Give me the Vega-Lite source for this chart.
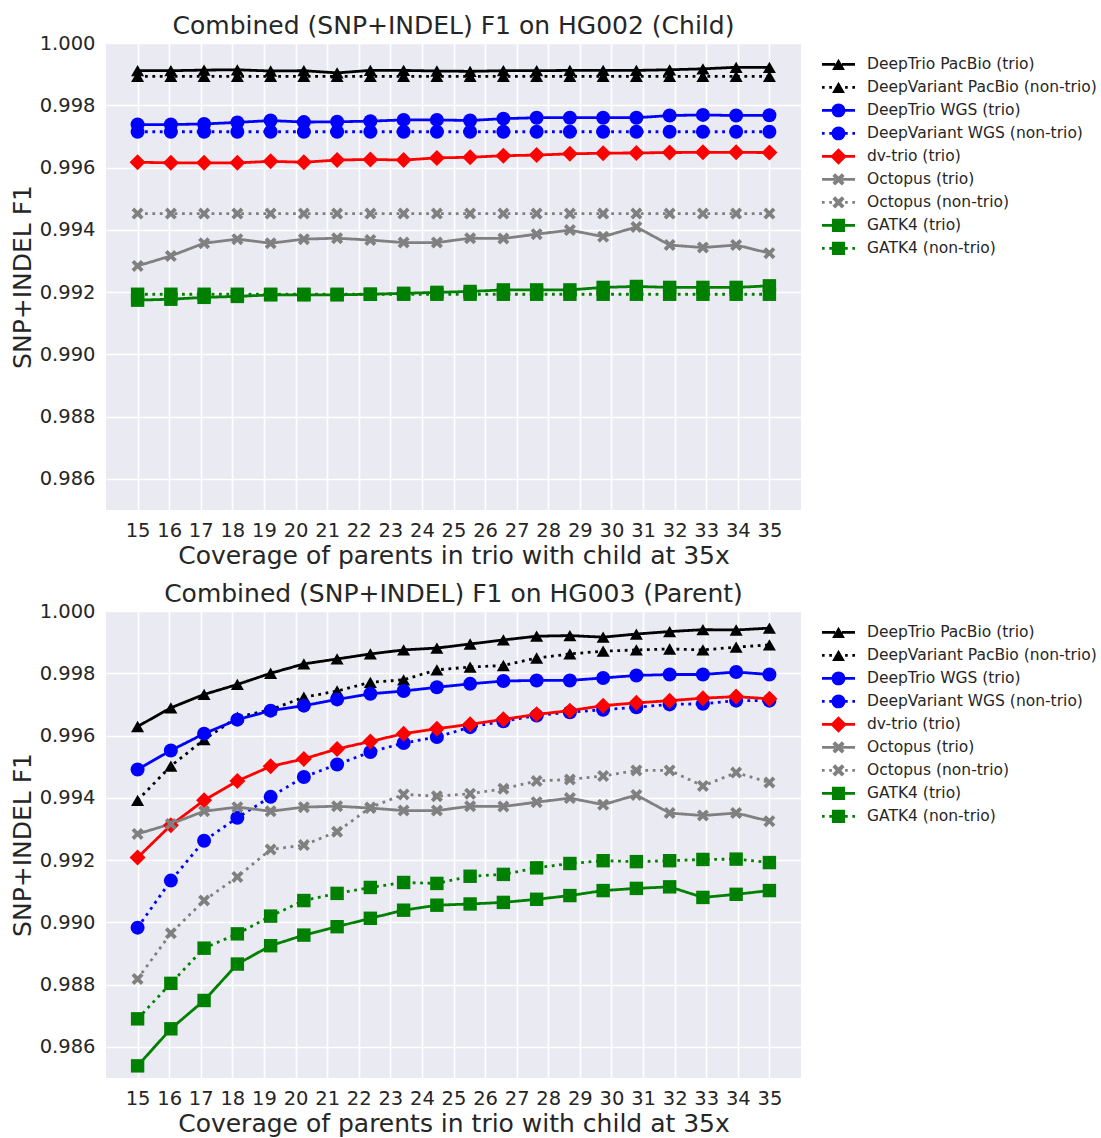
{
  "$schema": "https://vega.github.io/schema/vega-lite/v6.json",
  "padding": {"left": 10, "top": 14, "right": 0, "bottom": 0},
  "background": "white",
  "datasets": {
    "hg002": [
      {"s":"DeepTrio PacBio (trio)","x":15,"y":0.99911},{"s":"DeepTrio PacBio (trio)","x":16.053,"y":0.99911},{"s":"DeepTrio PacBio (trio)","x":17.105,"y":0.99913},{"s":"DeepTrio PacBio (trio)","x":18.158,"y":0.99914},{"s":"DeepTrio PacBio (trio)","x":19.211,"y":0.9991},{"s":"DeepTrio PacBio (trio)","x":20.263,"y":0.99911},{"s":"DeepTrio PacBio (trio)","x":21.316,"y":0.99904},{"s":"DeepTrio PacBio (trio)","x":22.368,"y":0.99912},{"s":"DeepTrio PacBio (trio)","x":23.421,"y":0.99912},{"s":"DeepTrio PacBio (trio)","x":24.474,"y":0.9991},{"s":"DeepTrio PacBio (trio)","x":25.526,"y":0.99909},{"s":"DeepTrio PacBio (trio)","x":26.579,"y":0.99911},{"s":"DeepTrio PacBio (trio)","x":27.632,"y":0.99911},{"s":"DeepTrio PacBio (trio)","x":28.684,"y":0.99912},{"s":"DeepTrio PacBio (trio)","x":29.737,"y":0.99912},{"s":"DeepTrio PacBio (trio)","x":30.789,"y":0.99912},{"s":"DeepTrio PacBio (trio)","x":31.842,"y":0.99914},{"s":"DeepTrio PacBio (trio)","x":32.895,"y":0.99917},{"s":"DeepTrio PacBio (trio)","x":33.947,"y":0.99922},{"s":"DeepTrio PacBio (trio)","x":35,"y":0.99922},
      {"s":"DeepVariant PacBio (non-trio)","x":15,"y":0.99893},{"s":"DeepVariant PacBio (non-trio)","x":16.053,"y":0.99893},{"s":"DeepVariant PacBio (non-trio)","x":17.105,"y":0.99893},{"s":"DeepVariant PacBio (non-trio)","x":18.158,"y":0.99893},{"s":"DeepVariant PacBio (non-trio)","x":19.211,"y":0.99893},{"s":"DeepVariant PacBio (non-trio)","x":20.263,"y":0.99893},{"s":"DeepVariant PacBio (non-trio)","x":21.316,"y":0.99893},{"s":"DeepVariant PacBio (non-trio)","x":22.368,"y":0.99893},{"s":"DeepVariant PacBio (non-trio)","x":23.421,"y":0.99893},{"s":"DeepVariant PacBio (non-trio)","x":24.474,"y":0.99893},{"s":"DeepVariant PacBio (non-trio)","x":25.526,"y":0.99893},{"s":"DeepVariant PacBio (non-trio)","x":26.579,"y":0.99893},{"s":"DeepVariant PacBio (non-trio)","x":27.632,"y":0.99893},{"s":"DeepVariant PacBio (non-trio)","x":28.684,"y":0.99893},{"s":"DeepVariant PacBio (non-trio)","x":29.737,"y":0.99893},{"s":"DeepVariant PacBio (non-trio)","x":30.789,"y":0.99893},{"s":"DeepVariant PacBio (non-trio)","x":31.842,"y":0.99893},{"s":"DeepVariant PacBio (non-trio)","x":32.895,"y":0.99893},{"s":"DeepVariant PacBio (non-trio)","x":33.947,"y":0.99893},{"s":"DeepVariant PacBio (non-trio)","x":35,"y":0.99893},
      {"s":"DeepTrio WGS (trio)","x":15,"y":0.99738},{"s":"DeepTrio WGS (trio)","x":16.053,"y":0.99738},{"s":"DeepTrio WGS (trio)","x":17.105,"y":0.9974},{"s":"DeepTrio WGS (trio)","x":18.158,"y":0.99745},{"s":"DeepTrio WGS (trio)","x":19.211,"y":0.99751},{"s":"DeepTrio WGS (trio)","x":20.263,"y":0.99746},{"s":"DeepTrio WGS (trio)","x":21.316,"y":0.99747},{"s":"DeepTrio WGS (trio)","x":22.368,"y":0.99749},{"s":"DeepTrio WGS (trio)","x":23.421,"y":0.99753},{"s":"DeepTrio WGS (trio)","x":24.474,"y":0.99753},{"s":"DeepTrio WGS (trio)","x":25.526,"y":0.99751},{"s":"DeepTrio WGS (trio)","x":26.579,"y":0.99757},{"s":"DeepTrio WGS (trio)","x":27.632,"y":0.9976},{"s":"DeepTrio WGS (trio)","x":28.684,"y":0.9976},{"s":"DeepTrio WGS (trio)","x":29.737,"y":0.9976},{"s":"DeepTrio WGS (trio)","x":30.789,"y":0.9976},{"s":"DeepTrio WGS (trio)","x":31.842,"y":0.99767},{"s":"DeepTrio WGS (trio)","x":32.895,"y":0.99769},{"s":"DeepTrio WGS (trio)","x":33.947,"y":0.99767},{"s":"DeepTrio WGS (trio)","x":35,"y":0.99768},
      {"s":"DeepVariant WGS (non-trio)","x":15,"y":0.99715},{"s":"DeepVariant WGS (non-trio)","x":16.053,"y":0.99715},{"s":"DeepVariant WGS (non-trio)","x":17.105,"y":0.99715},{"s":"DeepVariant WGS (non-trio)","x":18.158,"y":0.99715},{"s":"DeepVariant WGS (non-trio)","x":19.211,"y":0.99715},{"s":"DeepVariant WGS (non-trio)","x":20.263,"y":0.99715},{"s":"DeepVariant WGS (non-trio)","x":21.316,"y":0.99715},{"s":"DeepVariant WGS (non-trio)","x":22.368,"y":0.99715},{"s":"DeepVariant WGS (non-trio)","x":23.421,"y":0.99715},{"s":"DeepVariant WGS (non-trio)","x":24.474,"y":0.99715},{"s":"DeepVariant WGS (non-trio)","x":25.526,"y":0.99715},{"s":"DeepVariant WGS (non-trio)","x":26.579,"y":0.99715},{"s":"DeepVariant WGS (non-trio)","x":27.632,"y":0.99715},{"s":"DeepVariant WGS (non-trio)","x":28.684,"y":0.99715},{"s":"DeepVariant WGS (non-trio)","x":29.737,"y":0.99715},{"s":"DeepVariant WGS (non-trio)","x":30.789,"y":0.99715},{"s":"DeepVariant WGS (non-trio)","x":31.842,"y":0.99715},{"s":"DeepVariant WGS (non-trio)","x":32.895,"y":0.99715},{"s":"DeepVariant WGS (non-trio)","x":33.947,"y":0.99715},{"s":"DeepVariant WGS (non-trio)","x":35,"y":0.99715},
      {"s":"dv-trio (trio)","x":15,"y":0.99617},{"s":"dv-trio (trio)","x":16.053,"y":0.99615},{"s":"dv-trio (trio)","x":17.105,"y":0.99615},{"s":"dv-trio (trio)","x":18.158,"y":0.99615},{"s":"dv-trio (trio)","x":19.211,"y":0.9962},{"s":"dv-trio (trio)","x":20.263,"y":0.99617},{"s":"dv-trio (trio)","x":21.316,"y":0.99624},{"s":"dv-trio (trio)","x":22.368,"y":0.99626},{"s":"dv-trio (trio)","x":23.421,"y":0.99624},{"s":"dv-trio (trio)","x":24.474,"y":0.99631},{"s":"dv-trio (trio)","x":25.526,"y":0.99633},{"s":"dv-trio (trio)","x":26.579,"y":0.99638},{"s":"dv-trio (trio)","x":27.632,"y":0.9964},{"s":"dv-trio (trio)","x":28.684,"y":0.99644},{"s":"dv-trio (trio)","x":29.737,"y":0.99646},{"s":"dv-trio (trio)","x":30.789,"y":0.99647},{"s":"dv-trio (trio)","x":31.842,"y":0.99648},{"s":"dv-trio (trio)","x":32.895,"y":0.99649},{"s":"dv-trio (trio)","x":33.947,"y":0.99649},{"s":"dv-trio (trio)","x":35,"y":0.99648},
      {"s":"Octopus (trio)","x":15,"y":0.99284},{"s":"Octopus (trio)","x":16.053,"y":0.99316},{"s":"Octopus (trio)","x":17.105,"y":0.99357},{"s":"Octopus (trio)","x":18.158,"y":0.9937},{"s":"Octopus (trio)","x":19.211,"y":0.99357},{"s":"Octopus (trio)","x":20.263,"y":0.9937},{"s":"Octopus (trio)","x":21.316,"y":0.99373},{"s":"Octopus (trio)","x":22.368,"y":0.99367},{"s":"Octopus (trio)","x":23.421,"y":0.99359},{"s":"Octopus (trio)","x":24.474,"y":0.99359},{"s":"Octopus (trio)","x":25.526,"y":0.99373},{"s":"Octopus (trio)","x":26.579,"y":0.99372},{"s":"Octopus (trio)","x":27.632,"y":0.99386},{"s":"Octopus (trio)","x":28.684,"y":0.99399},{"s":"Octopus (trio)","x":29.737,"y":0.99378},{"s":"Octopus (trio)","x":30.789,"y":0.99409},{"s":"Octopus (trio)","x":31.842,"y":0.99351},{"s":"Octopus (trio)","x":32.895,"y":0.99343},{"s":"Octopus (trio)","x":33.947,"y":0.99351},{"s":"Octopus (trio)","x":35,"y":0.99325},
      {"s":"Octopus (non-trio)","x":15,"y":0.99452},{"s":"Octopus (non-trio)","x":16.053,"y":0.99452},{"s":"Octopus (non-trio)","x":17.105,"y":0.99452},{"s":"Octopus (non-trio)","x":18.158,"y":0.99452},{"s":"Octopus (non-trio)","x":19.211,"y":0.99452},{"s":"Octopus (non-trio)","x":20.263,"y":0.99452},{"s":"Octopus (non-trio)","x":21.316,"y":0.99452},{"s":"Octopus (non-trio)","x":22.368,"y":0.99452},{"s":"Octopus (non-trio)","x":23.421,"y":0.99452},{"s":"Octopus (non-trio)","x":24.474,"y":0.99452},{"s":"Octopus (non-trio)","x":25.526,"y":0.99452},{"s":"Octopus (non-trio)","x":26.579,"y":0.99452},{"s":"Octopus (non-trio)","x":27.632,"y":0.99452},{"s":"Octopus (non-trio)","x":28.684,"y":0.99452},{"s":"Octopus (non-trio)","x":29.737,"y":0.99452},{"s":"Octopus (non-trio)","x":30.789,"y":0.99452},{"s":"Octopus (non-trio)","x":31.842,"y":0.99452},{"s":"Octopus (non-trio)","x":32.895,"y":0.99452},{"s":"Octopus (non-trio)","x":33.947,"y":0.99452},{"s":"Octopus (non-trio)","x":35,"y":0.99452},
      {"s":"GATK4 (trio)","x":15,"y":0.99174},{"s":"GATK4 (trio)","x":16.053,"y":0.99177},{"s":"GATK4 (trio)","x":17.105,"y":0.99183},{"s":"GATK4 (trio)","x":18.158,"y":0.99186},{"s":"GATK4 (trio)","x":19.211,"y":0.99191},{"s":"GATK4 (trio)","x":20.263,"y":0.99191},{"s":"GATK4 (trio)","x":21.316,"y":0.99191},{"s":"GATK4 (trio)","x":22.368,"y":0.99193},{"s":"GATK4 (trio)","x":23.421,"y":0.99196},{"s":"GATK4 (trio)","x":24.474,"y":0.99199},{"s":"GATK4 (trio)","x":25.526,"y":0.99202},{"s":"GATK4 (trio)","x":26.579,"y":0.99207},{"s":"GATK4 (trio)","x":27.632,"y":0.99207},{"s":"GATK4 (trio)","x":28.684,"y":0.99207},{"s":"GATK4 (trio)","x":29.737,"y":0.99215},{"s":"GATK4 (trio)","x":30.789,"y":0.99218},{"s":"GATK4 (trio)","x":31.842,"y":0.99215},{"s":"GATK4 (trio)","x":32.895,"y":0.99215},{"s":"GATK4 (trio)","x":33.947,"y":0.99215},{"s":"GATK4 (trio)","x":35,"y":0.9922},
      {"s":"GATK4 (non-trio)","x":15,"y":0.99193},{"s":"GATK4 (non-trio)","x":16.053,"y":0.99193},{"s":"GATK4 (non-trio)","x":17.105,"y":0.99193},{"s":"GATK4 (non-trio)","x":18.158,"y":0.99193},{"s":"GATK4 (non-trio)","x":19.211,"y":0.99193},{"s":"GATK4 (non-trio)","x":20.263,"y":0.99193},{"s":"GATK4 (non-trio)","x":21.316,"y":0.99193},{"s":"GATK4 (non-trio)","x":22.368,"y":0.99193},{"s":"GATK4 (non-trio)","x":23.421,"y":0.99193},{"s":"GATK4 (non-trio)","x":24.474,"y":0.99193},{"s":"GATK4 (non-trio)","x":25.526,"y":0.99193},{"s":"GATK4 (non-trio)","x":26.579,"y":0.99193},{"s":"GATK4 (non-trio)","x":27.632,"y":0.99193},{"s":"GATK4 (non-trio)","x":28.684,"y":0.99193},{"s":"GATK4 (non-trio)","x":29.737,"y":0.99193},{"s":"GATK4 (non-trio)","x":30.789,"y":0.99193},{"s":"GATK4 (non-trio)","x":31.842,"y":0.99193},{"s":"GATK4 (non-trio)","x":32.895,"y":0.99193},{"s":"GATK4 (non-trio)","x":33.947,"y":0.99193},{"s":"GATK4 (non-trio)","x":35,"y":0.99193}
    ],
    "hg003": [
      {"s":"DeepTrio PacBio (trio)","x":15,"y":0.99629},{"s":"DeepTrio PacBio (trio)","x":16.053,"y":0.99689},{"s":"DeepTrio PacBio (trio)","x":17.105,"y":0.99732},{"s":"DeepTrio PacBio (trio)","x":18.158,"y":0.99764},{"s":"DeepTrio PacBio (trio)","x":19.211,"y":0.998},{"s":"DeepTrio PacBio (trio)","x":20.263,"y":0.9983},{"s":"DeepTrio PacBio (trio)","x":21.316,"y":0.99846},{"s":"DeepTrio PacBio (trio)","x":22.368,"y":0.99862},{"s":"DeepTrio PacBio (trio)","x":23.421,"y":0.99875},{"s":"DeepTrio PacBio (trio)","x":24.474,"y":0.99881},{"s":"DeepTrio PacBio (trio)","x":25.526,"y":0.99894},{"s":"DeepTrio PacBio (trio)","x":26.579,"y":0.99907},{"s":"DeepTrio PacBio (trio)","x":27.632,"y":0.99919},{"s":"DeepTrio PacBio (trio)","x":28.684,"y":0.99921},{"s":"DeepTrio PacBio (trio)","x":29.737,"y":0.99916},{"s":"DeepTrio PacBio (trio)","x":30.789,"y":0.99926},{"s":"DeepTrio PacBio (trio)","x":31.842,"y":0.99934},{"s":"DeepTrio PacBio (trio)","x":32.895,"y":0.9994},{"s":"DeepTrio PacBio (trio)","x":33.947,"y":0.99939},{"s":"DeepTrio PacBio (trio)","x":35,"y":0.99945},
      {"s":"DeepVariant PacBio (non-trio)","x":15,"y":0.99392},{"s":"DeepVariant PacBio (non-trio)","x":16.053,"y":0.99502},{"s":"DeepVariant PacBio (non-trio)","x":17.105,"y":0.99587},{"s":"DeepVariant PacBio (non-trio)","x":18.158,"y":0.99659},{"s":"DeepVariant PacBio (non-trio)","x":19.211,"y":0.99683},{"s":"DeepVariant PacBio (non-trio)","x":20.263,"y":0.99723},{"s":"DeepVariant PacBio (non-trio)","x":21.316,"y":0.99743},{"s":"DeepVariant PacBio (non-trio)","x":22.368,"y":0.99771},{"s":"DeepVariant PacBio (non-trio)","x":23.421,"y":0.99779},{"s":"DeepVariant PacBio (non-trio)","x":24.474,"y":0.99811},{"s":"DeepVariant PacBio (non-trio)","x":25.526,"y":0.9982},{"s":"DeepVariant PacBio (non-trio)","x":26.579,"y":0.99825},{"s":"DeepVariant PacBio (non-trio)","x":27.632,"y":0.99849},{"s":"DeepVariant PacBio (non-trio)","x":28.684,"y":0.99862},{"s":"DeepVariant PacBio (non-trio)","x":29.737,"y":0.99871},{"s":"DeepVariant PacBio (non-trio)","x":30.789,"y":0.99875},{"s":"DeepVariant PacBio (non-trio)","x":31.842,"y":0.99878},{"s":"DeepVariant PacBio (non-trio)","x":32.895,"y":0.99875},{"s":"DeepVariant PacBio (non-trio)","x":33.947,"y":0.99884},{"s":"DeepVariant PacBio (non-trio)","x":35,"y":0.99891},
      {"s":"DeepTrio WGS (trio)","x":15,"y":0.99491},{"s":"DeepTrio WGS (trio)","x":16.053,"y":0.99552},{"s":"DeepTrio WGS (trio)","x":17.105,"y":0.99606},{"s":"DeepTrio WGS (trio)","x":18.158,"y":0.99651},{"s":"DeepTrio WGS (trio)","x":19.211,"y":0.9968},{"s":"DeepTrio WGS (trio)","x":20.263,"y":0.99696},{"s":"DeepTrio WGS (trio)","x":21.316,"y":0.99716},{"s":"DeepTrio WGS (trio)","x":22.368,"y":0.99734},{"s":"DeepTrio WGS (trio)","x":23.421,"y":0.99743},{"s":"DeepTrio WGS (trio)","x":24.474,"y":0.99755},{"s":"DeepTrio WGS (trio)","x":25.526,"y":0.99766},{"s":"DeepTrio WGS (trio)","x":26.579,"y":0.99775},{"s":"DeepTrio WGS (trio)","x":27.632,"y":0.99777},{"s":"DeepTrio WGS (trio)","x":28.684,"y":0.99777},{"s":"DeepTrio WGS (trio)","x":29.737,"y":0.99785},{"s":"DeepTrio WGS (trio)","x":30.789,"y":0.99793},{"s":"DeepTrio WGS (trio)","x":31.842,"y":0.99796},{"s":"DeepTrio WGS (trio)","x":32.895,"y":0.99796},{"s":"DeepTrio WGS (trio)","x":33.947,"y":0.99804},{"s":"DeepTrio WGS (trio)","x":35,"y":0.99796},
      {"s":"DeepVariant WGS (non-trio)","x":15,"y":0.98983},{"s":"DeepVariant WGS (non-trio)","x":16.053,"y":0.99134},{"s":"DeepVariant WGS (non-trio)","x":17.105,"y":0.99262},{"s":"DeepVariant WGS (non-trio)","x":18.158,"y":0.99336},{"s":"DeepVariant WGS (non-trio)","x":19.211,"y":0.99403},{"s":"DeepVariant WGS (non-trio)","x":20.263,"y":0.99467},{"s":"DeepVariant WGS (non-trio)","x":21.316,"y":0.99507},{"s":"DeepVariant WGS (non-trio)","x":22.368,"y":0.99547},{"s":"DeepVariant WGS (non-trio)","x":23.421,"y":0.99576},{"s":"DeepVariant WGS (non-trio)","x":24.474,"y":0.99595},{"s":"DeepVariant WGS (non-trio)","x":25.526,"y":0.99627},{"s":"DeepVariant WGS (non-trio)","x":26.579,"y":0.99646},{"s":"DeepVariant WGS (non-trio)","x":27.632,"y":0.99664},{"s":"DeepVariant WGS (non-trio)","x":28.684,"y":0.99675},{"s":"DeepVariant WGS (non-trio)","x":29.737,"y":0.99683},{"s":"DeepVariant WGS (non-trio)","x":30.789,"y":0.99691},{"s":"DeepVariant WGS (non-trio)","x":31.842,"y":0.997},{"s":"DeepVariant WGS (non-trio)","x":32.895,"y":0.99702},{"s":"DeepVariant WGS (non-trio)","x":33.947,"y":0.99712},{"s":"DeepVariant WGS (non-trio)","x":35,"y":0.99712},
      {"s":"dv-trio (trio)","x":15,"y":0.99208},{"s":"dv-trio (trio)","x":16.053,"y":0.99312},{"s":"dv-trio (trio)","x":17.105,"y":0.99392},{"s":"dv-trio (trio)","x":18.158,"y":0.99454},{"s":"dv-trio (trio)","x":19.211,"y":0.99501},{"s":"dv-trio (trio)","x":20.263,"y":0.99525},{"s":"dv-trio (trio)","x":21.316,"y":0.99557},{"s":"dv-trio (trio)","x":22.368,"y":0.99581},{"s":"dv-trio (trio)","x":23.421,"y":0.99606},{"s":"dv-trio (trio)","x":24.474,"y":0.99622},{"s":"dv-trio (trio)","x":25.526,"y":0.99636},{"s":"dv-trio (trio)","x":26.579,"y":0.99652},{"s":"dv-trio (trio)","x":27.632,"y":0.99668},{"s":"dv-trio (trio)","x":28.684,"y":0.9968},{"s":"dv-trio (trio)","x":29.737,"y":0.99696},{"s":"dv-trio (trio)","x":30.789,"y":0.99705},{"s":"dv-trio (trio)","x":31.842,"y":0.99712},{"s":"dv-trio (trio)","x":32.895,"y":0.9972},{"s":"dv-trio (trio)","x":33.947,"y":0.99725},{"s":"dv-trio (trio)","x":35,"y":0.99718},
      {"s":"Octopus (trio)","x":15,"y":0.99284},{"s":"Octopus (trio)","x":16.053,"y":0.99316},{"s":"Octopus (trio)","x":17.105,"y":0.99357},{"s":"Octopus (trio)","x":18.158,"y":0.9937},{"s":"Octopus (trio)","x":19.211,"y":0.99357},{"s":"Octopus (trio)","x":20.263,"y":0.9937},{"s":"Octopus (trio)","x":21.316,"y":0.99373},{"s":"Octopus (trio)","x":22.368,"y":0.99367},{"s":"Octopus (trio)","x":23.421,"y":0.99359},{"s":"Octopus (trio)","x":24.474,"y":0.99359},{"s":"Octopus (trio)","x":25.526,"y":0.99373},{"s":"Octopus (trio)","x":26.579,"y":0.99372},{"s":"Octopus (trio)","x":27.632,"y":0.99386},{"s":"Octopus (trio)","x":28.684,"y":0.99399},{"s":"Octopus (trio)","x":29.737,"y":0.99378},{"s":"Octopus (trio)","x":30.789,"y":0.99409},{"s":"Octopus (trio)","x":31.842,"y":0.99351},{"s":"Octopus (trio)","x":32.895,"y":0.99343},{"s":"Octopus (trio)","x":33.947,"y":0.99351},{"s":"Octopus (trio)","x":35,"y":0.99325},
      {"s":"Octopus (non-trio)","x":15,"y":0.98818},{"s":"Octopus (non-trio)","x":16.053,"y":0.98965},{"s":"Octopus (non-trio)","x":17.105,"y":0.9907},{"s":"Octopus (non-trio)","x":18.158,"y":0.99146},{"s":"Octopus (non-trio)","x":19.211,"y":0.99234},{"s":"Octopus (non-trio)","x":20.263,"y":0.99248},{"s":"Octopus (non-trio)","x":21.316,"y":0.99291},{"s":"Octopus (non-trio)","x":22.368,"y":0.99369},{"s":"Octopus (non-trio)","x":23.421,"y":0.99411},{"s":"Octopus (non-trio)","x":24.474,"y":0.99405},{"s":"Octopus (non-trio)","x":25.526,"y":0.99413},{"s":"Octopus (non-trio)","x":26.579,"y":0.99429},{"s":"Octopus (non-trio)","x":27.632,"y":0.99454},{"s":"Octopus (non-trio)","x":28.684,"y":0.99459},{"s":"Octopus (non-trio)","x":29.737,"y":0.9947},{"s":"Octopus (non-trio)","x":30.789,"y":0.99488},{"s":"Octopus (non-trio)","x":31.842,"y":0.99488},{"s":"Octopus (non-trio)","x":32.895,"y":0.99438},{"s":"Octopus (non-trio)","x":33.947,"y":0.99481},{"s":"Octopus (non-trio)","x":35,"y":0.99449},
      {"s":"GATK4 (trio)","x":15,"y":0.98539},{"s":"GATK4 (trio)","x":16.053,"y":0.98658},{"s":"GATK4 (trio)","x":17.105,"y":0.98749},{"s":"GATK4 (trio)","x":18.158,"y":0.98866},{"s":"GATK4 (trio)","x":19.211,"y":0.98925},{"s":"GATK4 (trio)","x":20.263,"y":0.98959},{"s":"GATK4 (trio)","x":21.316,"y":0.98986},{"s":"GATK4 (trio)","x":22.368,"y":0.99013},{"s":"GATK4 (trio)","x":23.421,"y":0.99039},{"s":"GATK4 (trio)","x":24.474,"y":0.99055},{"s":"GATK4 (trio)","x":25.526,"y":0.99059},{"s":"GATK4 (trio)","x":26.579,"y":0.99064},{"s":"GATK4 (trio)","x":27.632,"y":0.99074},{"s":"GATK4 (trio)","x":28.684,"y":0.99086},{"s":"GATK4 (trio)","x":29.737,"y":0.99102},{"s":"GATK4 (trio)","x":30.789,"y":0.99109},{"s":"GATK4 (trio)","x":31.842,"y":0.99114},{"s":"GATK4 (trio)","x":32.895,"y":0.9908},{"s":"GATK4 (trio)","x":33.947,"y":0.9909},{"s":"GATK4 (trio)","x":35,"y":0.99102},
      {"s":"GATK4 (non-trio)","x":15,"y":0.9869},{"s":"GATK4 (non-trio)","x":16.053,"y":0.98804},{"s":"GATK4 (non-trio)","x":17.105,"y":0.98917},{"s":"GATK4 (non-trio)","x":18.158,"y":0.98963},{"s":"GATK4 (non-trio)","x":19.211,"y":0.9902},{"s":"GATK4 (non-trio)","x":20.263,"y":0.9907},{"s":"GATK4 (non-trio)","x":21.316,"y":0.99093},{"s":"GATK4 (non-trio)","x":22.368,"y":0.99112},{"s":"GATK4 (non-trio)","x":23.421,"y":0.99128},{"s":"GATK4 (non-trio)","x":24.474,"y":0.99125},{"s":"GATK4 (non-trio)","x":25.526,"y":0.99148},{"s":"GATK4 (non-trio)","x":26.579,"y":0.99154},{"s":"GATK4 (non-trio)","x":27.632,"y":0.99175},{"s":"GATK4 (non-trio)","x":28.684,"y":0.99189},{"s":"GATK4 (non-trio)","x":29.737,"y":0.99198},{"s":"GATK4 (non-trio)","x":30.789,"y":0.99195},{"s":"GATK4 (non-trio)","x":31.842,"y":0.99198},{"s":"GATK4 (non-trio)","x":32.895,"y":0.99202},{"s":"GATK4 (non-trio)","x":33.947,"y":0.99203},{"s":"GATK4 (non-trio)","x":35,"y":0.99192}
    ]
  },
  "spacing": 13,
  "resolve": {"scale": {"color": "independent"}, "legend": {"color": "independent"}},
  "vconcat": [
    {
      "data": {"name": "hg002"},
      "width": 695,
      "height": 467,
      "title": {"text": "Combined (SNP+INDEL) F1 on HG002 (Child)"},
      "encoding": {
        "x": {"field": "x", "type": "quantitative", "scale": {"domain": [14, 36], "nice": false, "zero": false}, "axis": {"values": [15,16,17,18,19,20,21,22,23,24,25,26,27,28,29,30,31,32,33,34,35], "format": "d", "title": "Coverage of parents in trio with child at 35x"}},
        "y": {"field": "y", "type": "quantitative", "scale": {"domain": [0.985, 1.0], "nice": false, "zero": false}, "axis": {"values": [0.986,0.988,0.99,0.992,0.994,0.996,0.998,1.0], "format": ".3f", "title": "SNP+INDEL F1"}}
      },
      "layer": [
        {
          "mark": {"type": "line", "strokeWidth": 2.8, "strokeCap": "butt"},
          "encoding": {
            "color": {"field": "s", "type": "nominal", "scale": {"domain": ["DeepTrio PacBio (trio)","DeepVariant PacBio (non-trio)","DeepTrio WGS (trio)","DeepVariant WGS (non-trio)","dv-trio (trio)","Octopus (trio)","Octopus (non-trio)","GATK4 (trio)","GATK4 (non-trio)"], "range": ["#000000","#000000","#0000FF","#0000FF","#FF0000","#808080","#808080","#008000","#008000"]},
              "legend": {"title": null, "orient": "right", "offset": 10, "padding": 11, "symbolSize": 1089, "clipHeight": 20.8, "rowPadding": 2, "labelOffset": 12, "labelLimit": 400, "symbolStrokeWidth": 0,
                "encode": {"symbols": {"update": {
                  "shape": {"signal": "['M-1,-0.085H-0.2V0.085H-1Z M0.2,-0.085H1V0.085H0.2Z M0,-0.34L0.39,0.34L-0.39,0.34Z','M-1,-0.085H-0.84V0.085H-1Z M-0.56,-0.085H-0.4V0.085H-0.56Z M0.4,-0.085H0.56V0.085H0.4Z M0.84,-0.085H1V0.085H0.84Z M0,-0.34L0.39,0.34L-0.39,0.34Z','M-1,-0.085H-0.2V0.085H-1Z M0.2,-0.085H1V0.085H0.2Z M0.42,0A0.42,0.42 0 1,1 -0.42,0A0.42,0.42 0 1,1 0.42,0Z','M-1,-0.085H-0.84V0.085H-1Z M-0.56,-0.085H-0.4V0.085H-0.56Z M0.4,-0.085H0.56V0.085H0.4Z M0.84,-0.085H1V0.085H0.84Z M0.42,0A0.42,0.42 0 1,1 -0.42,0A0.42,0.42 0 1,1 0.42,0Z','M-1,-0.085H-0.2V0.085H-1Z M0.2,-0.085H1V0.085H0.2Z M0,-0.5L0.5,0L0,0.5L-0.5,0Z','M-1,-0.085H-0.2V0.085H-1Z M0.2,-0.085H1V0.085H0.2Z M0,-0.17L0.2,-0.37L0.37,-0.2L0.17,0L0.37,0.2L0.2,0.37L0,0.17L-0.2,0.37L-0.37,0.2L-0.17,0L-0.37,-0.2L-0.2,-0.37Z','M-1,-0.085H-0.84V0.085H-1Z M-0.56,-0.085H-0.4V0.085H-0.56Z M0.4,-0.085H0.56V0.085H0.4Z M0.84,-0.085H1V0.085H0.84Z M0,-0.17L0.2,-0.37L0.37,-0.2L0.17,0L0.37,0.2L0.2,0.37L0,0.17L-0.2,0.37L-0.37,0.2L-0.17,0L-0.37,-0.2L-0.2,-0.37Z','M-1,-0.085H-0.2V0.085H-1Z M0.2,-0.085H1V0.085H0.2Z M-0.4,-0.4H0.4V0.4H-0.4Z','M-1,-0.085H-0.84V0.085H-1Z M-0.56,-0.085H-0.4V0.085H-0.56Z M0.4,-0.085H0.56V0.085H0.4Z M0.84,-0.085H1V0.085H0.84Z M-0.4,-0.4H0.4V0.4H-0.4Z'][datum.index]"},
                  "fill": {"signal": "['#000000','#000000','#0000FF','#0000FF','#FF0000','#808080','#808080','#008000','#008000'][datum.index]"},
                  "stroke": {"value": "transparent"},
                  "strokeWidth": {"value": 0},
                  "size": {"value": 1089},
                  "opacity": {"value": 1}
                }}}}},
            "strokeDash": {"field": "s", "type": "nominal", "scale": {"domain": ["DeepTrio PacBio (trio)","DeepVariant PacBio (non-trio)","DeepTrio WGS (trio)","DeepVariant WGS (non-trio)","dv-trio (trio)","Octopus (trio)","Octopus (non-trio)","GATK4 (trio)","GATK4 (non-trio)"], "range": [[1,0],[2.8,4.6],[1,0],[2.8,4.6],[1,0],[1,0],[2.8,4.6],[1,0],[2.8,4.6]]}, "legend": null}
          }
        },
        {
          "mark": {"type": "point", "filled": true, "opacity": 1, "strokeWidth": 0},
          "encoding": {
            "color": {"field": "s", "type": "nominal", "scale": {"domain": ["DeepTrio PacBio (trio)","DeepVariant PacBio (non-trio)","DeepTrio WGS (trio)","DeepVariant WGS (non-trio)","dv-trio (trio)","Octopus (trio)","Octopus (non-trio)","GATK4 (trio)","GATK4 (non-trio)"], "range": ["#000000","#000000","#0000FF","#0000FF","#FF0000","#808080","#808080","#008000","#008000"]}},
            "shape": {"field": "s", "type": "nominal", "scale": {"domain": ["DeepTrio PacBio (trio)","DeepVariant PacBio (non-trio)","DeepTrio WGS (trio)","DeepVariant WGS (non-trio)","dv-trio (trio)","Octopus (trio)","Octopus (non-trio)","GATK4 (trio)","GATK4 (non-trio)"], "range": ["triangle-up","triangle-up","circle","circle","diamond","M0,-0.45L0.55,-1L1,-0.55L0.45,0L1,0.55L0.55,1L0,0.45L-0.55,1L-1,0.55L-0.45,0L-1,-0.55L-0.55,-1Z","M0,-0.45L0.55,-1L1,-0.55L0.45,0L1,0.55L0.55,1L0,0.45L-0.55,1L-1,0.55L-0.45,0L-1,-0.55L-0.55,-1Z","square","square"]}, "legend": null},
            "size": {"field": "s", "type": "ordinal", "scale": {"type": "ordinal", "domain": ["DeepTrio PacBio (trio)","DeepVariant PacBio (non-trio)","DeepTrio WGS (trio)","DeepVariant WGS (non-trio)","dv-trio (trio)","Octopus (trio)","Octopus (non-trio)","GATK4 (trio)","GATK4 (non-trio)"], "range": [170,170,196,196,256,144,144,180,180]}, "legend": null}
          }
        }
      ]
    },
    {
      "data": {"name": "hg003"},
      "width": 695,
      "height": 467,
      "title": {"text": "Combined (SNP+INDEL) F1 on HG003 (Parent)"},
      "encoding": {
        "x": {"field": "x", "type": "quantitative", "scale": {"domain": [14, 36], "nice": false, "zero": false}, "axis": {"values": [15,16,17,18,19,20,21,22,23,24,25,26,27,28,29,30,31,32,33,34,35], "format": "d", "title": "Coverage of parents in trio with child at 35x"}},
        "y": {"field": "y", "type": "quantitative", "scale": {"domain": [0.985, 1.0], "nice": false, "zero": false}, "axis": {"values": [0.986,0.988,0.99,0.992,0.994,0.996,0.998,1.0], "format": ".3f", "title": "SNP+INDEL F1"}}
      },
      "layer": [
        {
          "mark": {"type": "line", "strokeWidth": 2.8, "strokeCap": "butt"},
          "encoding": {
            "color": {"field": "s", "type": "nominal", "scale": {"domain": ["DeepTrio PacBio (trio)","DeepVariant PacBio (non-trio)","DeepTrio WGS (trio)","DeepVariant WGS (non-trio)","dv-trio (trio)","Octopus (trio)","Octopus (non-trio)","GATK4 (trio)","GATK4 (non-trio)"], "range": ["#000000","#000000","#0000FF","#0000FF","#FF0000","#808080","#808080","#008000","#008000"]},
              "legend": {"title": null, "orient": "right", "offset": 10, "padding": 11, "symbolSize": 1089, "clipHeight": 20.8, "rowPadding": 2, "labelOffset": 12, "labelLimit": 400, "symbolStrokeWidth": 0,
                "encode": {"symbols": {"update": {
                  "shape": {"signal": "['M-1,-0.085H-0.2V0.085H-1Z M0.2,-0.085H1V0.085H0.2Z M0,-0.34L0.39,0.34L-0.39,0.34Z','M-1,-0.085H-0.84V0.085H-1Z M-0.56,-0.085H-0.4V0.085H-0.56Z M0.4,-0.085H0.56V0.085H0.4Z M0.84,-0.085H1V0.085H0.84Z M0,-0.34L0.39,0.34L-0.39,0.34Z','M-1,-0.085H-0.2V0.085H-1Z M0.2,-0.085H1V0.085H0.2Z M0.42,0A0.42,0.42 0 1,1 -0.42,0A0.42,0.42 0 1,1 0.42,0Z','M-1,-0.085H-0.84V0.085H-1Z M-0.56,-0.085H-0.4V0.085H-0.56Z M0.4,-0.085H0.56V0.085H0.4Z M0.84,-0.085H1V0.085H0.84Z M0.42,0A0.42,0.42 0 1,1 -0.42,0A0.42,0.42 0 1,1 0.42,0Z','M-1,-0.085H-0.2V0.085H-1Z M0.2,-0.085H1V0.085H0.2Z M0,-0.5L0.5,0L0,0.5L-0.5,0Z','M-1,-0.085H-0.2V0.085H-1Z M0.2,-0.085H1V0.085H0.2Z M0,-0.17L0.2,-0.37L0.37,-0.2L0.17,0L0.37,0.2L0.2,0.37L0,0.17L-0.2,0.37L-0.37,0.2L-0.17,0L-0.37,-0.2L-0.2,-0.37Z','M-1,-0.085H-0.84V0.085H-1Z M-0.56,-0.085H-0.4V0.085H-0.56Z M0.4,-0.085H0.56V0.085H0.4Z M0.84,-0.085H1V0.085H0.84Z M0,-0.17L0.2,-0.37L0.37,-0.2L0.17,0L0.37,0.2L0.2,0.37L0,0.17L-0.2,0.37L-0.37,0.2L-0.17,0L-0.37,-0.2L-0.2,-0.37Z','M-1,-0.085H-0.2V0.085H-1Z M0.2,-0.085H1V0.085H0.2Z M-0.4,-0.4H0.4V0.4H-0.4Z','M-1,-0.085H-0.84V0.085H-1Z M-0.56,-0.085H-0.4V0.085H-0.56Z M0.4,-0.085H0.56V0.085H0.4Z M0.84,-0.085H1V0.085H0.84Z M-0.4,-0.4H0.4V0.4H-0.4Z'][datum.index]"},
                  "fill": {"signal": "['#000000','#000000','#0000FF','#0000FF','#FF0000','#808080','#808080','#008000','#008000'][datum.index]"},
                  "stroke": {"value": "transparent"},
                  "strokeWidth": {"value": 0},
                  "size": {"value": 1089},
                  "opacity": {"value": 1}
                }}}}},
            "strokeDash": {"field": "s", "type": "nominal", "scale": {"domain": ["DeepTrio PacBio (trio)","DeepVariant PacBio (non-trio)","DeepTrio WGS (trio)","DeepVariant WGS (non-trio)","dv-trio (trio)","Octopus (trio)","Octopus (non-trio)","GATK4 (trio)","GATK4 (non-trio)"], "range": [[1,0],[2.8,4.6],[1,0],[2.8,4.6],[1,0],[1,0],[2.8,4.6],[1,0],[2.8,4.6]]}, "legend": null}
          }
        },
        {
          "mark": {"type": "point", "filled": true, "opacity": 1, "strokeWidth": 0},
          "encoding": {
            "color": {"field": "s", "type": "nominal", "scale": {"domain": ["DeepTrio PacBio (trio)","DeepVariant PacBio (non-trio)","DeepTrio WGS (trio)","DeepVariant WGS (non-trio)","dv-trio (trio)","Octopus (trio)","Octopus (non-trio)","GATK4 (trio)","GATK4 (non-trio)"], "range": ["#000000","#000000","#0000FF","#0000FF","#FF0000","#808080","#808080","#008000","#008000"]}},
            "shape": {"field": "s", "type": "nominal", "scale": {"domain": ["DeepTrio PacBio (trio)","DeepVariant PacBio (non-trio)","DeepTrio WGS (trio)","DeepVariant WGS (non-trio)","dv-trio (trio)","Octopus (trio)","Octopus (non-trio)","GATK4 (trio)","GATK4 (non-trio)"], "range": ["triangle-up","triangle-up","circle","circle","diamond","M0,-0.45L0.55,-1L1,-0.55L0.45,0L1,0.55L0.55,1L0,0.45L-0.55,1L-1,0.55L-0.45,0L-1,-0.55L-0.55,-1Z","M0,-0.45L0.55,-1L1,-0.55L0.45,0L1,0.55L0.55,1L0,0.45L-0.55,1L-1,0.55L-0.45,0L-1,-0.55L-0.55,-1Z","square","square"]}, "legend": null},
            "size": {"field": "s", "type": "ordinal", "scale": {"type": "ordinal", "domain": ["DeepTrio PacBio (trio)","DeepVariant PacBio (non-trio)","DeepTrio WGS (trio)","DeepVariant WGS (non-trio)","dv-trio (trio)","Octopus (trio)","Octopus (non-trio)","GATK4 (trio)","GATK4 (non-trio)"], "range": [170,170,196,196,256,144,144,180,180]}, "legend": null}
          }
        }
      ]
    }
  ],
  "config": {
    "font": "DejaVu Sans",
    "view": {"fill": "#EAEAF2", "stroke": null},
    "axis": {"domain": false, "ticks": false, "tickSize": 0, "labelPadding": 11, "grid": true, "gridColor": "#FFFFFF", "gridWidth": 1.6, "gridOpacity": 1, "labelFont": "DejaVu Sans", "labelFontSize": 19.5, "labelColor": "#262626", "titleFont": "DejaVu Sans", "titleFontSize": 25, "titleFontWeight": "normal", "titleColor": "#262626"},
    "axisX": {"titlePadding": 4, "labelAngle": 0},
    "axisY": {"titlePadding": 4},
    "title": {"font": "DejaVu Sans", "fontSize": 25, "fontWeight": "normal", "color": "#262626", "frame": "group", "anchor": "middle", "baseline": "alphabetic", "offset": 9, "dy": 15},
    "legend": {"labelFont": "DejaVu Sans", "labelFontSize": 15.5, "labelColor": "#262626"}
  }
}
